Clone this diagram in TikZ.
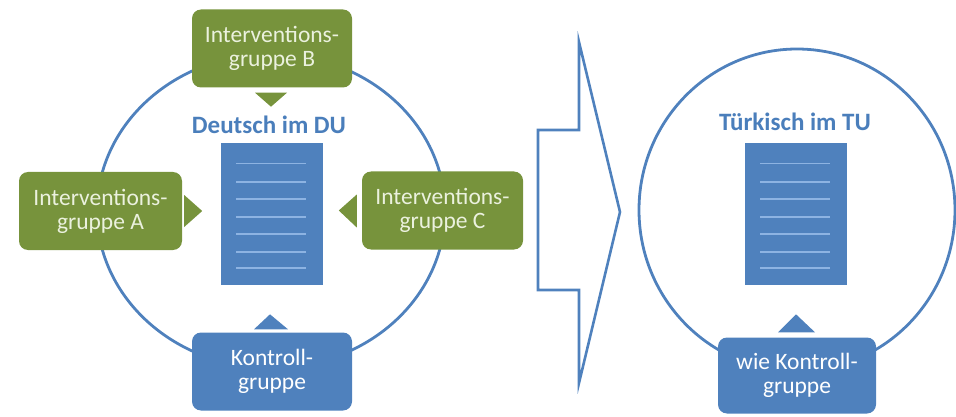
\documentclass[tikz,border=0pt]{standalone}
\usepackage{fontspec}
\setmainfont{Carlito}
\usetikzlibrary{calc,shapes.geometric}
\definecolor{olive}{HTML}{77933C}
\definecolor{olivetext}{HTML}{EBF1DE}
\definecolor{steel}{HTML}{4F81BD}
\definecolor{headblue}{HTML}{4A7EBB}
\definecolor{ruleblue}{HTML}{8DB3E2}
\begin{document}
\begin{tikzpicture}[x=1pt,y=-1pt,
  grpbox/.style={rounded corners=9pt, minimum width=160pt, minimum height=78pt,
    align=center, inner sep=0pt, font=\fontsize{23.5}{24}\selectfont},
  greenbox/.style={grpbox, fill=olive, text=olivetext},
  bluebox/.style={grpbox, fill=steel, text=white},
  ring/.style={ellipse, draw=steel, line width=2.8pt, inner sep=0pt},
  pointerg/.style={fill=olive},
  pointerb/.style={fill=steel},
  docpage/.style={fill=steel, minimum width=102pt, minimum height=142pt, inner sep=0pt},
  docrule/.style={draw=ruleblue, line width=1.4pt},
  heading/.style={text=headblue, font=\bfseries\fontsize{25}{28}\selectfont},
  bigarrow/.style={draw=steel, line width=2.6pt, line join=miter},
]
\useasboundingbox (0,0) rectangle (956,417);

% rings
\node[ring, minimum width=348pt, minimum height=314pt] (ringL) at (271,211) {};
\node[ring, minimum width=316pt, minimum height=322pt] (ringR) at (797,210) {};

% documents
\node[docpage] (docL) at (272,214) {};
\node[docpage] (docR) at (796,214) {};
\foreach \d in {docL,docR}{
  \foreach \y in {21,39,56,74,91,109,125}{
    \draw[docrule] ($(\d.north west)+(15,\y)$) -- ($(\d.north east)+(-17,\y)$);
  }
}

% headings
\node[heading] (headL) at (269,125) {Deutsch im DU};
\node[heading] (headR) at (795,122) {Türkisch im TU};

% group boxes
\node[greenbox] (grpB) at (272,48.5) {Interventions-\\gruppe B};
\node[greenbox, minimum width=163pt] (grpA) at (100.5,211) {Interventions-\\gruppe A};
\node[greenbox, minimum width=161pt] (grpC) at (442.5,210.5) {Interventions-\\gruppe C};
\node[bluebox] (ctrl) at (272,371.5) {Kontroll-\\gruppe};
\node[bluebox, minimum width=158pt, minimum height=76pt] (ctrlR) at (797,375.5) {wie Kontroll-\\gruppe};

% pointers towards the documents
\fill[pointerg] ($(grpB.south)+(-17,5)$) -- ($(grpB.south)+(15,5)$) -- ($(grpB.south)+(-1,19)$) -- cycle;
\fill[pointerg] ($(grpA.east)+(2,-16)$) -- ($(grpA.east)+(2,16)$) -- ($(grpA.east)+(20,0)$) -- cycle;
\fill[pointerg] ($(grpC.west)+(-5,-16)$) -- ($(grpC.west)+(-5,17)$) -- ($(grpC.west)+(-23,0)$) -- cycle;
\fill[pointerb] ($(ctrl.north)+(-18,-3)$) -- ($(ctrl.north)+(16,-3)$) -- ($(ctrl.north)+(-2,-18)$) -- cycle;
\fill[pointerb] ($(ctrlR.north)+(-19,-5)$) -- ($(ctrlR.north)+(18,-5)$) -- ($(ctrlR.north)+(-1,-23)$) -- cycle;

% transition arrow
\draw[bigarrow] (538,130) coordinate (tailT) -- (579,130) -- (579,42) -- (620,212) coordinate (tip)
  -- (579,383) -- (579,290) -- (538,290) coordinate (tailB) -- cycle;
\end{tikzpicture}
\end{document}
